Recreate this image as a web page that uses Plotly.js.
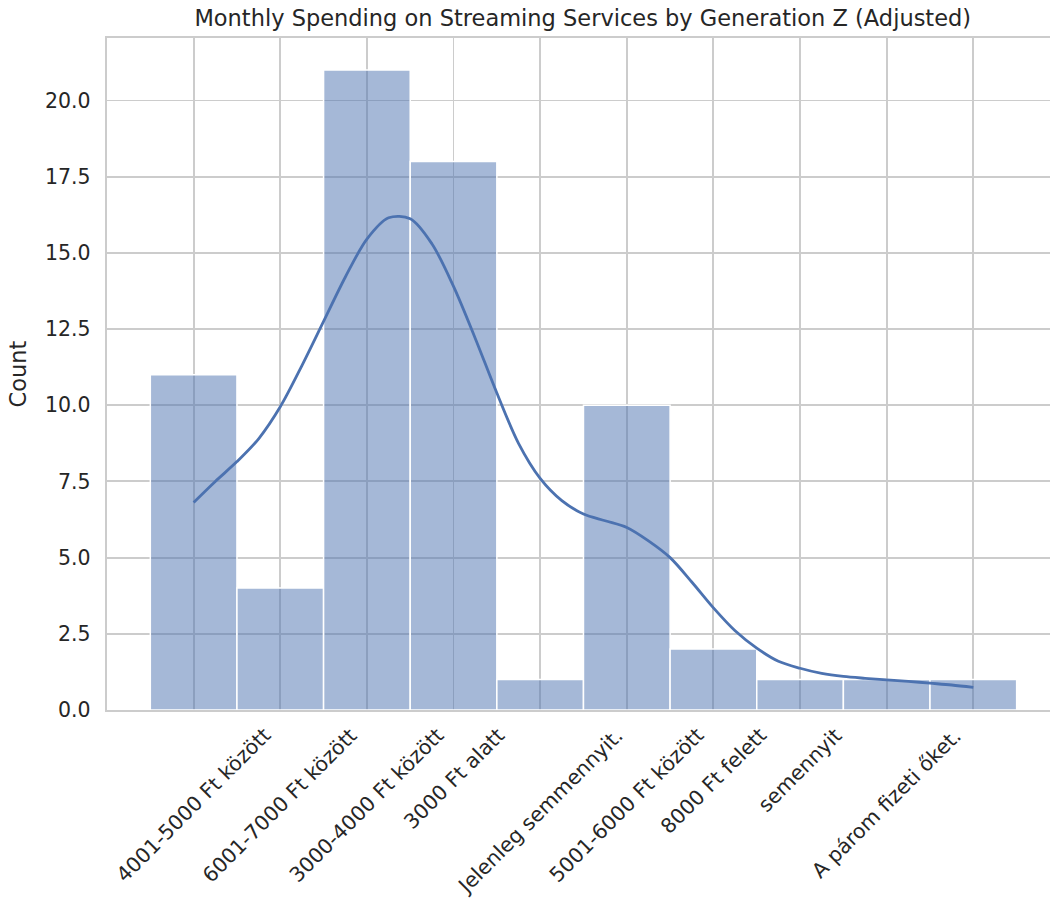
<!DOCTYPE html>
<html>
<head>
<meta charset="utf-8">
<script src="https://cdn.plot.ly/plotly-3.0.1.min.js"></script>
<style>
  html, body { margin: 0; padding: 0; background: #ffffff; }
  #chart { width: 1050px; height: 899px; }
</style>
</head>
<body>
<div id="chart"></div>
<script>
// Bin positions (bar centres) and counts
const binPositions = [0, 1, 2, 3, 4, 5, 6, 7, 8, 9];
const binCounts = [11, 4, 21, 18, 1, 10, 2, 1, 1, 1];

// Tick labels (the last bin carries no label in the original)
const tickLabels = [
  "4001-5000 Ft között",
  "6001-7000 Ft között",
  "3000-4000 Ft között",
  "3000 Ft alatt",
  "Jelenleg semmennyit.",
  "5001-6000 Ft között",
  "8000 Ft felett",
  "semennyit",
  "A párom fizeti őket."
];

// KDE curve
const kdeX = [0, 0.25, 0.5, 0.75, 1.0, 1.25, 1.5, 1.75, 2.0, 2.25, 2.5, 2.75, 3.0, 3.25, 3.5, 3.75, 4.0, 4.25, 4.5, 4.75, 5.0, 5.25, 5.5, 5.75, 6.0, 6.25, 6.5, 6.75, 7.0, 7.25, 7.5, 7.75, 8.0, 8.25, 8.5, 8.75, 9.0];
const kdeY = [6.81, 7.5, 8.15, 8.9, 9.95, 11.3, 12.75, 14.2, 15.45, 16.15, 16.12, 15.3, 13.9, 12.2, 10.4, 8.75, 7.6, 6.87, 6.43, 6.21, 5.99, 5.55, 5.0, 4.2, 3.35, 2.6, 2.03, 1.6, 1.37, 1.2, 1.1, 1.04, 0.99, 0.94, 0.88, 0.82, 0.74];

const yTicks = [0, 2.5, 5, 7.5, 10, 12.5, 15, 17.5, 20];

const textColor = "#262626";
const gridColor = "#cccccc";
const fontFam = "DejaVu Sans, sans-serif";

const traces = [
  {
    type: "bar",
    x: binPositions,
    y: binCounts,
    width: 1,
    marker: { color: "rgba(76,114,176,0.5)", line: { color: "#ffffff", width: 1.5 } },
    hoverinfo: "x+y",
    showlegend: false
  },
  {
    type: "scatter",
    mode: "lines",
    x: kdeX,
    y: kdeY,
    line: { color: "#4c72b0", width: 2.8, shape: "spline", smoothing: 0.9 },
    showlegend: false
  }
];

const annotations = tickLabels.map((t, i) => ({
  text: t,
  x: binPositions[i],
  xref: "x",
  y: 0,
  yref: "paper",
  yshift: -12,
  xanchor: "center",
  yanchor: "top",
  textangle: -45,
  showarrow: false,
  borderpad: 0,
  font: { family: fontFam, size: 20.5, color: textColor }
}));

const layout = {
  width: 1050,
  height: 899,
  paper_bgcolor: "#ffffff",
  plot_bgcolor: "#ffffff",
  margin: { l: 106.5, r: 0, t: 38, b: 189 },
  title: {
    text: "Monthly Spending on Streaming Services by Generation Z (Adjusted)",
    font: { family: fontFam, size: 22.5, color: textColor },
    xref: "container",
    x: 0.555,
    xanchor: "center",
    yref: "container",
    y: 0.98,
    yanchor: "middle"
  },
  bargap: 0,
  xaxis: {
    range: [-1, 9.885],
    tickvals: binPositions,
    showticklabels: false,
    ticks: "",
    showgrid: true,
    gridcolor: gridColor,
    gridwidth: 1.9,
    zeroline: false,
    showline: true,
    linecolor: gridColor,
    linewidth: 2.3,
    mirror: true
  },
  yaxis: {
    range: [0, 22.05],
    tickvals: yTicks,
    tickformat: ".1f",
    ticks: "outside",
    ticklen: 10,
    tickcolor: "rgba(0,0,0,0)",
    tickfont: { family: fontFam, size: 20.5, color: textColor },
    showgrid: true,
    gridcolor: gridColor,
    gridwidth: 1.9,
    zeroline: false,
    showline: true,
    linecolor: gridColor,
    linewidth: 2.3,
    title: {
      text: "Count",
      font: { family: fontFam, size: 22.5, color: textColor },
      standoff: 12
    }
  },
  annotations: annotations
};

Plotly.newPlot("chart", traces, layout, { displayModeBar: false, staticPlot: true });
</script>
</body>
</html>
